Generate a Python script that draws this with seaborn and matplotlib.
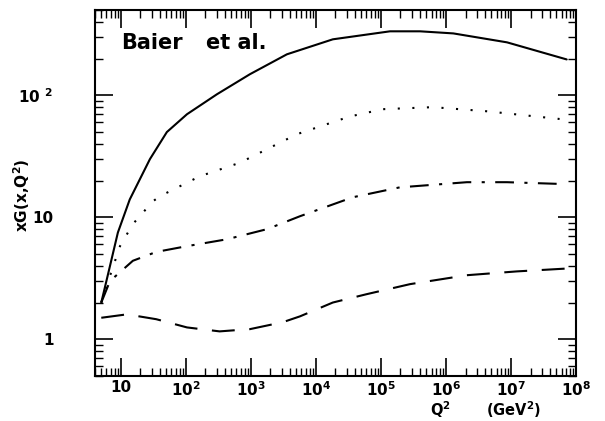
import numpy as np
import pandas as pd
import matplotlib
matplotlib.use("Agg")
import matplotlib.pyplot as plt
import matplotlib.ticker as mticker
import seaborn as sns

# ── Data (Q^2 in GeV^2, xG) ──────────────────────────────────────────────────
q2_solid = [5, 6.5, 9, 13.7, 28, 51, 104, 300, 966, 3580, 18200, 1.38e5, 4e5, 1.3e6, 8.7e6, 7.2e7]
xg_solid = [2.0, 3.6, 7.5, 14, 30, 50, 70, 102, 149, 217, 288, 335, 335, 322, 272, 197]

q2_dotted = [5, 6.8, 9.7, 15.3, 31, 40, 164, 676, 5100, 33000, 1.07e5, 6.3e5, 4.3e6, 5.6e7]
xg_dotted = [2.0, 3.3, 5.8, 8.8, 13.5, 14.9, 21.7, 28, 48, 67, 77, 80, 74, 64]

q2_dashdot = [5, 6.8, 15.3, 35, 104, 426, 1780, 5680, 37000, 1.95e5, 2.1e6, 8.7e6, 7.2e7]
xg_dashdot = [2.0, 3.0, 4.4, 5.2, 5.8, 6.6, 8.0, 10.2, 14.6, 17.6, 19.4, 19.4, 18.7]

q2_dashed = [5, 12.4, 35, 104, 330, 966, 3100, 5680, 18200, 60000, 2.8e5, 2.1e6, 1.23e7, 7.2e7]
xg_dashed = [1.5, 1.6, 1.46, 1.25, 1.16, 1.21, 1.38, 1.54, 2.0, 2.34, 2.83, 3.35, 3.6, 3.8]

xticks = [10, 1e2, 1e3, 1e4, 1e5, 1e6, 1e7, 1e8]
xlabels = ["10", "$10^{2}$", "$10^{3}$", "$10^{4}$", "$10^{5}$", "$10^{6}$", "$10^{7}$", "$10^{8}$"]
yticks = [1, 10, 100]
ylabels = ["1", "10", "10 $^{2}$"]

curves = [
    (q2_solid, xg_solid, "-"),
    (q2_dotted, xg_dotted, (0, (1, 6))),
    (q2_dashdot, xg_dashdot, (0, (9, 5, 1.5, 5))),
    (q2_dashed, xg_dashed, (0, (11, 7))),
]

sns.set_theme(style="ticks")
plt.rcParams["font.family"] = ["DejaVu Sans"]
plt.rcParams["mathtext.default"] = "bf"
plt.rcParams["text.color"] = "black"
plt.rcParams["xtick.color"] = "black"
plt.rcParams["ytick.color"] = "black"

fig = plt.figure(figsize=(6.05, 4.21), dpi=100)
ax = fig.add_axes([0.157, 0.107, 0.795, 0.869])

for q2, xg, ls in curves:
    df = pd.DataFrame({"q2": q2, "xg": xg})
    sns.lineplot(data=df, x="q2", y="xg", ax=ax, color="black",
                 linewidth=1.5, linestyle=ls, sort=False, estimator=None)

ax.set_xscale("log")
ax.set_yscale("log")
ax.set_xlim(4, 1e8)
ax.set_ylim(0.5, 500)

# ── Ticks ─────────────────────────────────────────────────────────────────────
ax.xaxis.set_minor_locator(mticker.LogLocator(base=10, subs=np.arange(2, 10), numticks=20))
ax.yaxis.set_minor_locator(mticker.LogLocator(base=10, subs=np.arange(2, 10), numticks=20))
ax.set_xticks(xticks)
ax.set_xticklabels(xlabels)
ax.set_yticks(yticks)
ax.set_yticklabels(ylabels)

ax.tick_params(which="both", direction="in", top=True, right=True, color="black")
ax.tick_params(which="major", length=13, width=1.2, labelsize=11)
ax.tick_params(which="minor", length=6, width=1.0)
ax.tick_params(axis="y", which="major", pad=30)
ax.tick_params(axis="x", which="major", pad=3)
for lab in ax.get_xticklabels() + ax.get_yticklabels():
    lab.set_fontweight("bold")
    lab.set_color("black")

for sp in ax.spines.values():
    sp.set_linewidth(1.5)
    sp.set_color("black")

ax.set_xlabel("")
ax.set_ylabel("")
fig.text(0.036, 0.537, "xG(x,Q$^{2}$)", fontsize=11, fontweight="bold",
         rotation=90, ha="center", va="center")

fig.text(0.728, 0.002, "Q$^{2}$", fontsize=10.5, fontweight="bold", ha="center", va="bottom")
fig.text(0.848, 0.002, "(GeV$^{2}$)", fontsize=10.5, fontweight="bold", ha="center", va="bottom")

ax.text(0.055, 0.895, "Baier", transform=ax.transAxes, fontsize=15, fontweight="bold")
ax.text(0.23, 0.895, "et al.", transform=ax.transAxes, fontsize=15, fontweight="bold")

fig.savefig("out.png", dpi=100)
